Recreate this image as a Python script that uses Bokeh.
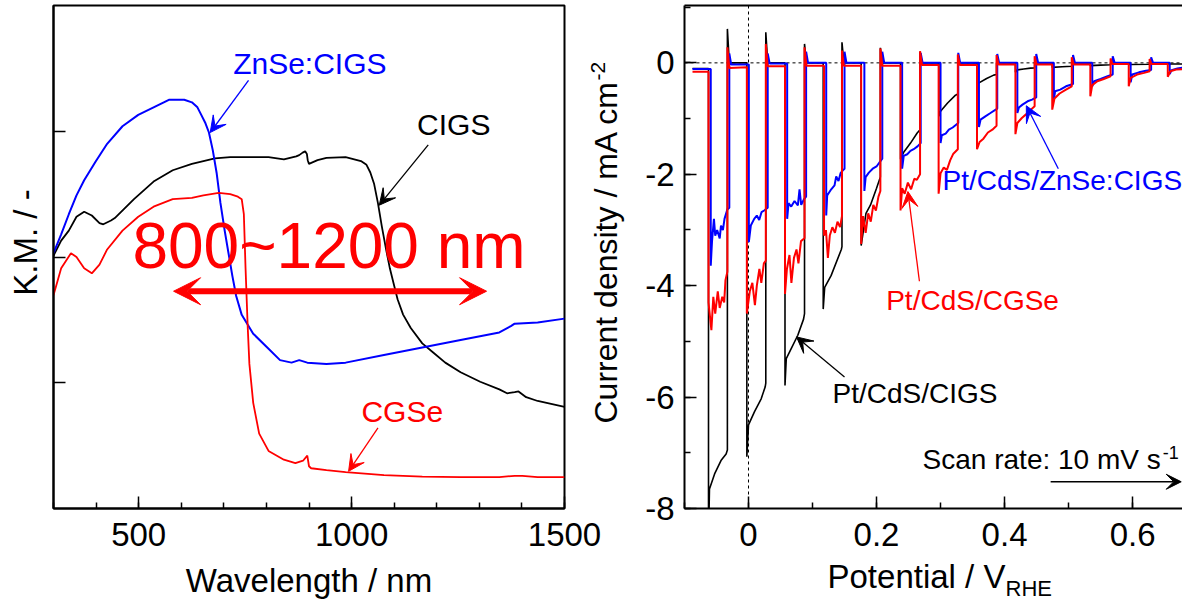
import math
from bokeh.plotting import figure
from bokeh.layouts import row
from bokeh.models import (Range1d, FixedTicker, LinearAxis, Label, Arrow, VeeHead,
                          Span, CustomJSTickFormatter)
from bokeh.embed import file_html
from bokeh.resources import INLINE

FONT = "Liberation Sans"

# ---------------- Left panel: diffuse reflectance (K.M.) ----------------
wl_cigs = [300, 318, 336, 354, 372, 390, 408, 417, 435, 444, 489, 535, 580, 625, 679, 715,
           805, 841, 870, 877, 885, 891, 895, 897, 900, 920, 941, 986, 1022, 1035, 1044,
           1053, 1062, 1071, 1081, 1090, 1099, 1108, 1121, 1139, 1166, 1193, 1220, 1256,
           1302, 1347, 1365, 1383, 1392, 1410, 1437, 1500]
km_cigs = [2.01, 2.13, 2.21, 2.32, 2.36, 2.33, 2.27, 2.26, 2.29, 2.31, 2.46, 2.60, 2.69, 2.74,
           2.785, 2.794, 2.794, 2.776, 2.80, 2.81, 2.83, 2.84, 2.82, 2.77, 2.74, 2.77, 2.788,
           2.794, 2.763, 2.733, 2.672, 2.58, 2.427, 2.244, 2.061, 1.908, 1.786, 1.664, 1.542,
           1.435, 1.313, 1.237, 1.16, 1.084, 1.008, 0.947, 0.916, 0.925, 0.931, 0.885, 0.855,
           0.809]

wl_znse = [300, 318, 336, 354, 372, 399, 426, 462, 499, 535, 571, 607, 625, 638, 647, 656,
           665, 674, 683, 692, 702, 711, 720, 729, 742, 769, 805, 832, 859, 877, 896, 941,
           986, 1076, 1166, 1256, 1347, 1374, 1383, 1437, 1500]
km_znse = [2.03, 2.18, 2.34, 2.49, 2.61, 2.76, 2.90, 3.04, 3.13, 3.19, 3.25, 3.25, 3.23, 3.19,
           3.13, 3.07, 2.99, 2.85, 2.67, 2.43, 2.21, 2.03, 1.85, 1.69, 1.54, 1.39, 1.27, 1.18,
           1.16, 1.18, 1.16, 1.15, 1.16, 1.22, 1.28, 1.34, 1.40, 1.45, 1.47, 1.48, 1.51]

wl_cgse = [300, 318, 341, 354, 372, 390, 408, 426, 462, 499, 535, 580, 625, 652, 688, 715,
           733, 742, 747, 751, 756, 760, 769, 783, 805, 841, 868, 886, 896, 900, 905, 941,
           986, 1076, 1166, 1256, 1347, 1383, 1401, 1437, 1500]
km_cgse = [1.695, 1.91, 2.03, 2.0, 1.91, 1.87, 1.94, 2.06, 2.21, 2.32, 2.40, 2.46, 2.47, 2.49,
           2.51, 2.50, 2.48, 2.46, 2.34, 1.91, 1.45, 1.15, 0.84, 0.595, 0.458, 0.388, 0.36,
           0.38, 0.42, 0.336, 0.32, 0.305, 0.29, 0.266, 0.253, 0.25, 0.25, 0.26, 0.26, 0.25,
           0.25]

wl_ticks = [500, 1000, 1500]
wl_minor = [300, 400, 500, 600, 700, 800, 900, 1000, 1100, 1200, 1300, 1400, 1500]
km_ticks = [1, 2, 3]

# ---------------- Right panel: chopped-light current density ----------------
pot_cigs = [-0.0875, -0.0625,
            -0.0625, -0.061, -0.053, -0.043, -0.035, -0.033, -0.033, -0.030, -0.0026,
            -0.0026, 0.0, 0.0094, 0.0198, 0.026, 0.027, 0.027, 0.030, 0.057,
            0.057, 0.059, 0.0667, 0.077, 0.086, 0.0875, 0.0875, 0.0905, 0.1167,
            0.1167, 0.119, 0.129, 0.145, 0.146, 0.146, 0.149, 0.176,
            0.176, 0.1835, 0.1906, 0.200, 0.206, 0.206, 0.209, 0.2375,
            0.2375, 0.2427, 0.2531, 0.2635, 0.268, 0.268, 0.271, 0.2974,
            0.2974, 0.300, 0.311, 0.3234, 0.327, 0.327, 0.330, 0.357,
            0.357, 0.360, 0.372, 0.383, 0.3875, 0.3875, 0.417,
            0.417, 0.420, 0.430, 0.4406, 0.447, 0.447, 0.4745,
            0.4745, 0.490, 0.505, 0.505, 0.534,
            0.534, 0.550, 0.5656, 0.5656, 0.594,
            0.594, 0.6266, 0.6266, 0.655,
            0.655, 0.690]
cur_cigs = [-0.10, -0.10,
            -8.6, -7.65, -7.38, -7.14, -7.02, -6.95, 0.61, 0.0, 0.0,
            -7.07, -6.5, -6.26, -6.03, -5.82, -5.75, 0.55, 0.0, 0.0,
            -5.79, -5.31, -5.13, -4.89, -4.6, -4.5, 0.34, 0.0, 0.0,
            -4.42, -4.03, -3.82, -3.35, -3.3, 0.37, 0.0, 0.0,
            -3.28, -2.7, -2.55, -2.25, -2.05, 0.27, 0.0, 0.0,
            -1.73, -1.6, -1.44, -1.26, -1.2, 0.2, 0.0, 0.0,
            -0.96, -0.87, -0.72, -0.58, -0.56, 0.1, 0.0, 0.0,
            -0.40, -0.36, -0.28, -0.22, -0.21, 0.0, 0.0,
            -0.17, -0.125, -0.11, -0.095, -0.09, 0.0, 0.0,
            -0.08, -0.07, -0.06, 0.0, 0.0,
            -0.05, -0.04, -0.035, 0.0, 0.0,
            -0.03, -0.025, 0.0, 0.0,
            -0.02, -0.02]

pot_znse = [-0.0875, -0.059,
            -0.059, -0.057, -0.054, -0.052, -0.049, -0.045, -0.043, -0.040, -0.0375, -0.033,
            -0.030, -0.030, -0.027, 0.0005,
            0.0005, 0.0036, 0.0089, 0.013, 0.0167, 0.0203, 0.0245, 0.030, 0.030, 0.033, 0.0604,
            0.0604, 0.0625, 0.0667, 0.0719, 0.0771, 0.0797, 0.0823, 0.0865, 0.090, 0.090, 0.093,
            0.1214,
            0.1214, 0.1229, 0.1292, 0.1344, 0.137, 0.1406, 0.1438, 0.1474, 0.150, 0.150, 0.153,
            0.181,
            0.181, 0.183, 0.188, 0.194, 0.200, 0.205, 0.209, 0.209, 0.212, 0.240,
            0.240, 0.2425, 0.248, 0.253, 0.258, 0.264, 0.269, 0.269, 0.272, 0.300,
            0.300, 0.302, 0.308, 0.313, 0.319, 0.3277, 0.3277, 0.3307, 0.360,
            0.360, 0.3625, 0.370, 0.378, 0.3886, 0.3886, 0.3916, 0.420,
            0.420, 0.4225, 0.428, 0.436, 0.443, 0.4495, 0.4495, 0.4525, 0.477,
            0.477, 0.479, 0.487, 0.496, 0.507, 0.507, 0.510, 0.537,
            0.537, 0.540, 0.550, 0.561, 0.569, 0.569, 0.572, 0.597,
            0.597, 0.5995, 0.610, 0.621, 0.629, 0.629, 0.632, 0.658,
            0.658, 0.661, 0.670, 0.690]
cur_znse = [-0.11, -0.11,
            -3.64, -3.2, -2.8, -3.1, -3.0, -3.15, -2.92, -3.0, -2.8, -2.63,
            -2.6, 0.17, -0.03, -0.03,
            -3.22, -2.92, -2.8, -2.74, -2.82, -2.68, -2.65, -2.6, 0.17, -0.01, -0.01,
            -2.8, -2.52, -2.58, -2.48, -2.56, -2.27, -2.55, -2.45, -2.4, 0.2, 0.0,
            0.0,
            -2.74, -2.38, -2.27, -2.2, -2.04, -2.12, -1.98, -1.93, -1.9, 0.2, 0.0,
            0.0,
            -2.3, -2.05, -1.97, -1.9, -1.86, -1.78, -1.72, 0.2, 0.0, 0.0,
            -1.9, -1.67, -1.64, -1.58, -1.55, -1.5, -1.44, 0.18, 0.0, 0.0,
            -1.44, -1.3, -1.27, -1.2, -1.16, -1.08, 0.18, 0.0, 0.0,
            -1.15, -1.02, -0.96, -0.9, -0.82, 0.16, 0.0, 0.0,
            -0.9, -0.8, -0.75, -0.69, -0.66, -0.62, 0.16, 0.0, 0.0,
            -0.66, -0.51, -0.48, -0.42, -0.38, 0.14, 0.0, 0.0,
            -0.42, -0.33, -0.29, -0.24, -0.21, 0.12, 0.0, 0.0,
            -0.35, -0.21, -0.17, -0.14, -0.13, 0.1, 0.0, 0.0,
            -0.2, -0.13, -0.1, -0.07]

pot_cgse = [-0.0875, -0.0625,
            -0.0625, -0.058, -0.055, -0.052, -0.048, -0.045, -0.041, -0.038, -0.036, -0.033,
            -0.033, -0.030, -0.0026,
            -0.0026, 0.002, 0.006, 0.010, 0.013, 0.017, 0.020, 0.024, 0.027, 0.027, 0.030, 0.057,
            0.057, 0.060, 0.064, 0.067, 0.071, 0.075, 0.078, 0.082, 0.0875, 0.0875, 0.0905, 0.118,
            0.118, 0.121, 0.124, 0.127, 0.131, 0.135, 0.139, 0.143, 0.146, 0.146, 0.149, 0.176,
            0.176, 0.179, 0.183, 0.187, 0.191, 0.195, 0.199, 0.203, 0.206, 0.206, 0.209, 0.2375,
            0.2375, 0.240, 0.244, 0.249, 0.254, 0.259, 0.263, 0.268, 0.268, 0.271, 0.297,
            0.297, 0.300, 0.305, 0.310, 0.315, 0.320, 0.327, 0.327, 0.330, 0.357,
            0.357, 0.361, 0.367, 0.374, 0.381, 0.3875, 0.3875, 0.3905, 0.417,
            0.417, 0.420, 0.427, 0.434, 0.441, 0.447, 0.447, 0.450, 0.4745,
            0.4745, 0.478, 0.486, 0.496, 0.505, 0.505, 0.508, 0.534,
            0.534, 0.537, 0.545, 0.555, 0.5656, 0.5656, 0.5686, 0.594,
            0.594, 0.597, 0.607, 0.618, 0.6266, 0.6266, 0.6296, 0.655,
            0.655, 0.659, 0.668, 0.690]
cur_cgse = [-0.16, -0.16,
            -4.3, -4.8, -4.2, -4.5, -4.1, -4.4, -4.2, -4.3, -3.9, -3.75,
            0.28, -0.09, -0.08,
            -4.5, -4.1, -3.95, -4.35, -4.0, -3.7, -3.95, -3.6, -3.55, 0.34, -0.06, -0.06,
            -4.15, -3.7, -3.45, -3.95, -3.5, -3.35, -3.6, -3.2, -3.15, 0.28, -0.05, -0.05,
            -3.1, -3.0, -3.5, -3.1, -2.95, -3.05, -2.85, -2.95, -2.75, 0.22, -0.05, -0.05,
            -3.25, -2.75, -3.05, -2.7, -2.85, -2.55, -2.65, -2.4, -2.3, 0.26, -0.05, -0.05,
            -2.65, -2.25, -2.35, -2.15, -2.27, -2.08, -2.1, -2.0, 0.21, -0.04, -0.04,
            -2.35, -1.98, -1.88, -1.92, -1.75, -1.63, -1.55, 0.15, -0.04, -0.04,
            -1.55, -1.42, -1.36, -1.25, -1.2, -1.13, 0.14, -0.03, -0.03,
            -1.28, -1.08, -0.99, -0.92, -0.84, -0.78, 0.12, -0.03, -0.03,
            -0.84, -0.64, -0.55, -0.48, -0.42, 0.1, -0.03, -0.03,
            -0.6, -0.4, -0.33, -0.29, -0.24, 0.08, -0.02, -0.02,
            -0.42, -0.27, -0.21, -0.18, -0.15, 0.07, -0.02, -0.02,
            -0.25, -0.15, -0.12, -0.11]

j_ticks = [-8, -6, -4, -2, 0]
j_minor = [-8, -7, -6, -5, -4, -3, -2, -1, 0, 1]
e_ticks = [0, 0.2, 0.4, 0.6]
e_minor = [-0.1, 0, 0.1, 0.2, 0.3, 0.4, 0.5, 0.6]


def style_axis(ax, size="33px"):
    ax.axis_line_width = 2
    ax.axis_line_color = "black"
    ax.major_tick_in = 12
    ax.major_tick_out = 0
    ax.minor_tick_in = 6
    ax.minor_tick_out = 0
    ax.major_tick_line_width = 1.5
    ax.minor_tick_line_width = 1.5
    ax.major_tick_line_color = "black"
    ax.minor_tick_line_color = "black"
    ax.major_label_text_font = FONT
    ax.major_label_text_font_size = size
    ax.major_label_text_color = "black"
    ax.major_label_standoff = 14


def lab(p, x, y, text, size, color="black", align="left", angle=0.0, place="center"):
    p.add_layout(Label(x=x, y=y, text=text, text_font=FONT, text_font_size=size,
                       text_color=color, text_align=align, text_baseline="middle",
                       angle=angle), place)


def arr(p, x0, y0, x1, y1, color, width=1.3, size=16):
    p.add_layout(Arrow(x_start=x0, y_start=y0, x_end=x1, y_end=y1, line_color=color,
                       line_width=width,
                       end=VeeHead(size=size, fill_color=color, line_color=color,
                                   line_width=1)))


# ---------- left figure (its canvas also carries the right panel's y title) ----------
p1 = figure(width=625, height=611, x_range=Range1d(300, 1500), y_range=Range1d(0, 4),
            output_backend="svg", toolbar_location=None,
            min_border_left=53, min_border_right=61, min_border_top=5, min_border_bottom=103)
p1.xgrid.visible = False
p1.ygrid.visible = False
p1.outline_line_color = "black"
p1.outline_line_width = 2
p1.outline_line_alpha = 1.0
p1.background_fill_color = "white"
p1.border_fill_color = "white"

style_axis(p1.xaxis[0])
p1.xaxis[0].ticker = FixedTicker(ticks=wl_ticks, minor_ticks=wl_minor)
style_axis(p1.yaxis[0])
p1.yaxis[0].ticker = FixedTicker(ticks=km_ticks, minor_ticks=[])
p1.yaxis[0].major_label_text_color = None

p1.line(wl_cigs, km_cigs, line_color="black", line_width=1.8)
p1.line(wl_znse, km_znse, line_color="#0000ff", line_width=2)
p1.line(wl_cgse, km_cgse, line_color="#ff0000", line_width=1.8)

lab(p1, 902, 3.54, "ZnSe:CIGS", "30px", "#0000ff", "center")
lab(p1, 1240, 3.05, "CIGS", "30px", "black", "center")
lab(p1, 1119, 0.77, "CGSe", "30px", "#ff0000", "center")
lab(p1, 947, 2.09, "800~1200 nm", "64px", "#ff0000", "center")

arr(p1, 758, 3.405, 668, 2.99, "#0000ff")
arr(p1, 1180, 2.891, 1065, 2.412, "black")
arr(p1, 1062, 0.641, 993, 0.296, "#ff0000")
p1.add_layout(Arrow(x_start=582, y_start=1.728, x_end=1317, y_end=1.728,
                    line_color="#ff0000", line_width=6,
                    start=VeeHead(size=27, fill_color="#ff0000", line_color="#ff0000"),
                    end=VeeHead(size=27, fill_color="#ff0000", line_color="#ff0000")))

lab(p1, 900, -0.573, "Wavelength / nm", "33px", "black", "center", place="below")
lab(p1, 234, 2.115, "K.M. / -", "33px", "black", "center", math.pi / 2, place="left")
# y title of the right panel (same pixel rows as the right frame)
lab(p1, 1598.6, 0.676, "Current density / mA cm", "32px", "black", "left", math.pi / 2,
    place="right")
lab(p1, 1577.5, 3.404, "-2", "21px", "black", "left", math.pi / 2, place="right")

# ---------- right figure ----------
p2 = figure(width=557, height=611, x_range=Range1d(-0.1, 0.678), y_range=Range1d(-8, 1.03),
            output_backend="svg", toolbar_location=None,
            min_border_left=59, min_border_right=0, min_border_top=5, min_border_bottom=103)
p2.xgrid.visible = False
p2.ygrid.visible = False
p2.outline_line_color = None
p2.background_fill_color = "white"
p2.border_fill_color = "white"

style_axis(p2.xaxis[0])
p2.xaxis[0].ticker = FixedTicker(ticks=e_ticks, minor_ticks=e_minor)
p2.xaxis[0].formatter = CustomJSTickFormatter(
    code="return tick == 0 ? '0' : tick.toFixed(1);")
style_axis(p2.yaxis[0])
p2.yaxis[0].ticker = FixedTicker(ticks=j_ticks, minor_ticks=j_minor)
p2.yaxis[0].formatter = CustomJSTickFormatter(code="return tick.toFixed(0);")
p2.yaxis[0].major_label_standoff = 10

top = LinearAxis(ticker=FixedTicker(ticks=[], minor_ticks=[]), axis_line_width=2,
                 major_tick_in=0, major_tick_out=0, minor_tick_in=0, minor_tick_out=0,
                 major_label_text_font_size="0px", major_label_standoff=0)
p2.add_layout(top, "above")

p2.add_layout(Span(location=0, dimension="width", line_color="black", line_width=1,
                   line_dash="3 3", level="underlay"))
p2.add_layout(Span(location=0, dimension="height", line_color="black", line_width=1,
                   line_dash="3 3", level="underlay"))

p2.line(pot_cigs, cur_cigs, line_color="black", line_width=1.6)
p2.line(pot_znse, cur_znse, line_color="#0000ff", line_width=2)
p2.line(pot_cgse, cur_cgse, line_color="#ff0000", line_width=2)

lab(p2, 0.303, -2.11, "Pt/CdS/ZnSe:CIGS", "28px", "#0000ff", "left")
lab(p2, 0.350, -4.27, "Pt/CdS/CGSe", "28px", "#ff0000", "center")
lab(p2, 0.260, -5.94, "Pt/CdS/CIGS", "28px", "black", "center")
lab(p2, 0.272, -7.12, "Scan rate: 10 mV s", "28px", "black", "left")
lab(p2, 0.647, -6.99, "-1", "18px", "black", "left")

arr(p2, 0.484, -1.90, 0.434, -0.77, "#0000ff")
arr(p2, 0.267, -3.92, 0.249, -2.31, "#ff0000")
arr(p2, 0.150, -5.64, 0.075, -4.92, "black")
arr(p2, 0.472, -7.52, 0.676, -7.52, "black", width=1.3, size=15)

lab(p2, 0.1234, -9.22, "Potential / V", "33px", "black", "left", place="below")
lab(p2, 0.4016, -9.43, "RHE", "22px", "black", "left", place="below")

layout = row(p1, p2, spacing=0)
open("out.html", "w").write(file_html(layout, INLINE))
